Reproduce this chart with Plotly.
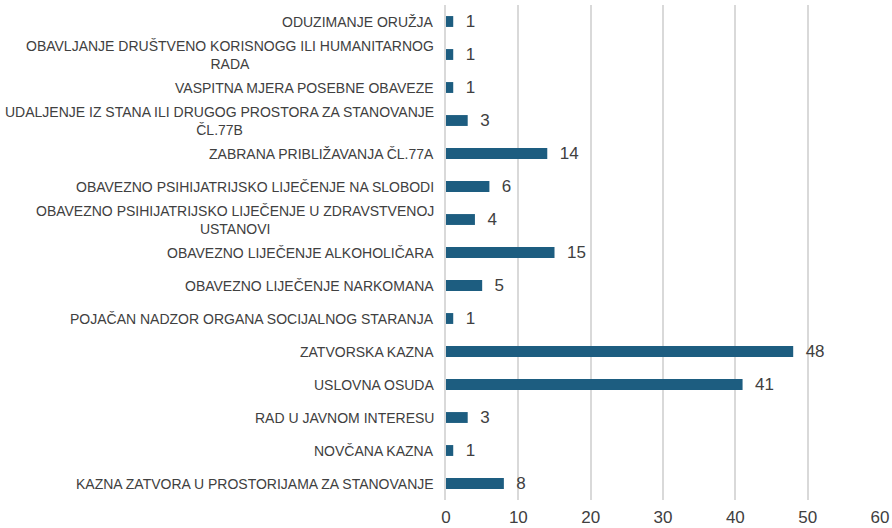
import plotly.graph_objects as go

categories = [
    "ODUZIMANJE ORUŽJA",
    "OBAVLJANJE DRUŠTVENO KORISNOGG ILI HUMANITARNOG<br>RADA",
    "VASPITNA MJERA POSEBNE OBAVEZE",
    "UDALJENJE IZ STANA ILI DRUGOG PROSTORA ZA STANOVANJE<br>ČL.77B",
    "ZABRANA PRIBLIŽAVANJA ČL.77A",
    "OBAVEZNO PSIHIJATRIJSKO LIJEČENJE NA SLOBODI",
    "OBAVEZNO PSIHIJATRIJSKO LIJEČENJE U ZDRAVSTVENOJ<br>USTANOVI",
    "OBAVEZNO LIJEČENJE ALKOHOLIČARA",
    "OBAVEZNO LIJEČENJE NARKOMANA",
    "POJAČAN NADZOR ORGANA SOCIJALNOG STARANJA",
    "ZATVORSKA KAZNA",
    "USLOVNA OSUDA",
    "RAD U JAVNOM INTERESU",
    "NOVČANA KAZNA",
    "KAZNA ZATVORA U PROSTORIJAMA ZA STANOVANJE",
]
values = [1, 1, 1, 3, 14, 6, 4, 15, 5, 1, 48, 41, 3, 1, 8]
x_ticks = [0, 10, 20, 30, 40, 50, 60]

ids = list(range(len(categories)))
FONT = "Liberation Sans, Arial, sans-serif"

fig = go.Figure(
    go.Bar(
        x=values,
        y=ids,
        orientation="h",
        marker=dict(color="#1d5d80", line=dict(width=0)),
        width=0.33,
        text=values,
        texttemplate="  %{x}",
        textposition="outside",
        constraintext="none",
        cliponaxis=False,
        textfont=dict(family=FONT, size=17, color="#404040"),
        hoverinfo="skip",
    )
)

annotations = []
for i, c in zip(ids, categories):
    annotations.append(
        dict(
            x=0, xref="paper", y=i, yref="y",
            text=c, showarrow=False, xanchor="right", yanchor="middle",
            align="center", xshift=-10,
            font=dict(family=FONT, size=14, color="#404040"),
        )
    )

fig.update_layout(
    width=892, height=528,
    margin=dict(l=446, r=12, t=5, b=28, autoexpand=False),
    paper_bgcolor="white", plot_bgcolor="white",
    showlegend=False,
    annotations=annotations,
    xaxis=dict(
        range=[0, 60], tickvals=x_ticks, showgrid=True, gridcolor="#d9d9d9", gridwidth=1.5,
        zeroline=False, showline=False, ticks="", ticklabelstandoff=5,
        tickfont=dict(family=FONT, size=17, color="#404040"),
    ),
    yaxis=dict(
        range=[len(categories) - 0.5, -0.5], showticklabels=False, showgrid=False,
        zeroline=False, showline=True, linecolor="#d9d9d9", linewidth=1.5, ticks="",
    ),
)

fig.write_html(
    "out.html",
    config={"displayModeBar": False},
    post_script="document.body.style.margin='0px';",
)
